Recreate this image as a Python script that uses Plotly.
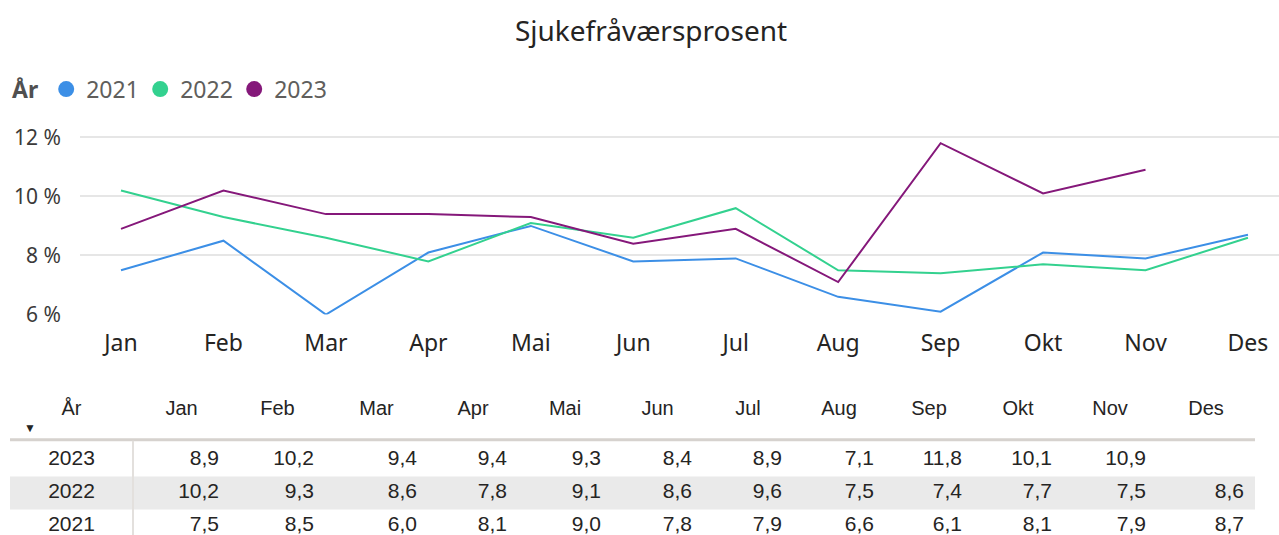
import plotly.graph_objects as go

# ---------------- data ----------------
months = ["Jan", "Feb", "Mar", "Apr", "Mai", "Jun", "Jul", "Aug", "Sep", "Okt", "Nov", "Des"]
years = ["2021", "2022", "2023"]
v2021 = [7.5, 8.5, 6.0, 8.1, 9.0, 7.8, 7.9, 6.6, 6.1, 8.1, 7.9, 8.7]
v2022 = [10.2, 9.3, 8.6, 7.8, 9.1, 8.6, 9.6, 7.5, 7.4, 7.7, 7.5, 8.6]
v2023 = [8.9, 10.2, 9.4, 9.4, 9.3, 8.4, 8.9, 7.1, 11.8, 10.1, 10.9, None]
y_ticks = [6, 8, 10, 12]
y_tick_labels = ["6 %", "8 %", "10 %", "12 %"]

series = {"2021": v2021, "2022": v2022, "2023": v2023}
colors = {"2021": "#3C8FE6", "2022": "#33D18F", "2023": "#85187A"}
table_order = ["2023", "2022", "2021"]

# ---------------- layout constants (pixels) ----------------
W, H = 1279, 535          # design space
FIG_H = 551               # figure height (page is shown squeezed to 535)
CHART_FONT = "Noto Sans"
TABLE_FONT = "Liberation Sans"
PLOT_BOTTOM, PLOT_TOP = 312, 123
PX_PER_UNIT = 29.5
TABLE_LEFT = 10
YEAR_COL_W = 123
COL_WIDTHS = [97, 95, 103, 90, 94, 91, 90, 92, 88, 90, 94, 98]
CELL_PAD = 11
HEADER_Y = 407
ROW_Y0 = 457
ROW_H = 33
TABLE_TOP = 380

fig = go.Figure()

for yr in years:
    fig.add_trace(go.Scatter(
        x=months, y=series[yr], mode="lines", name=yr,
        line=dict(color=colors[yr], width=2),
        showlegend=False, xaxis="x", yaxis="y",
        hovertemplate="%{x}: %{y:.1f} %<extra>" + yr + "</extra>",
    ))
for yr in years:
    fig.add_trace(go.Scatter(
        x=[None], y=[None], mode="markers", name=yr,
        marker=dict(size=20, color=colors[yr]),
        xaxis="x", yaxis="y",
    ))

# ---------------- table ----------------
seps = [TABLE_LEFT + YEAR_COL_W]
for w in COL_WIDTHS:
    seps.append(seps[-1] + w)
col_right = [s - CELL_PAD for s in seps[1:]]
col_center = [(seps[i] + seps[i + 1]) / 2 for i in range(len(COL_WIDTHS))]
year_center = TABLE_LEFT + YEAR_COL_W / 2

def fmt(v):
    return "" if v is None else f"{v:.1f}".replace(".", ",")

fig.add_trace(go.Scatter(
    x=[year_center] + col_center, y=[HEADER_Y] * (len(months) + 1),
    mode="text", text=["År"] + months, textposition="middle center",
    textfont=dict(family=TABLE_FONT, size=20, color="#252423"),
    showlegend=False, hoverinfo="skip", xaxis="x2", yaxis="y2",
))
for i, yr in enumerate(table_order):
    ry = ROW_Y0 + i * ROW_H
    fig.add_trace(go.Scatter(
        x=[year_center], y=[ry], mode="text", text=[yr],
        textposition="middle center",
        textfont=dict(family=TABLE_FONT, size=21, color="#252423"),
        showlegend=False, hoverinfo="skip", xaxis="x2", yaxis="y2",
    ))
    fig.add_trace(go.Scatter(
        x=col_right, y=[ry] * len(months), mode="text",
        text=[fmt(v) for v in series[yr]], textposition="middle left",
        textfont=dict(family=TABLE_FONT, size=21, color="#252423"),
        showlegend=False, hoverinfo="skip", xaxis="x2", yaxis="y2",
    ))

shapes = []
band_row = table_order.index("2022")
shapes.append(dict(type="rect", xref="x2", yref="y2", layer="below",
                   x0=TABLE_LEFT, x1=seps[-1],
                   y0=ROW_Y0 + band_row * ROW_H - ROW_H / 2,
                   y1=ROW_Y0 + band_row * ROW_H + ROW_H / 2,
                   fillcolor="#EAEAEA", line=dict(width=0)))
shapes.append(dict(type="line", xref="x2", yref="y2", x0=TABLE_LEFT, x1=seps[-1],
                   y0=437, y1=437, line=dict(color="#D6D2CE", width=3)))
shapes.append(dict(type="line", xref="x2", yref="y2", x0=seps[0], x1=seps[0],
                   y0=438, y1=H, line=dict(color="#E3E0DD", width=2)))

annotations = [
    dict(text="▼", xref="x2", yref="y2", x=30, y=425, showarrow=False,
         font=dict(size=12, color="#252423")),
]

fig.update_layout(
    width=W, height=FIG_H,
    margin=dict(l=0, r=0, t=0, b=0),
    paper_bgcolor="white", plot_bgcolor="rgba(0,0,0,0)",
    title=dict(text="Sjukefråværsprosent", x=0.509, xanchor="center",
               y=1 - 30 / H, yanchor="middle",
               font=dict(family=CHART_FONT, size=28, color="#252423")),
    legend=dict(orientation="h", x=10 / W, xanchor="left", y=1 - 87 / H, yanchor="middle",
                title=dict(text="<b>År</b>", side="left",
                           font=dict(family=CHART_FONT, size=23, color="#505050")),
                font=dict(family=CHART_FONT, size=23, color="#605E5C"),
                itemsizing="trace", tracegroupgap=0, itemwidth=30,
                entrywidth=49, entrywidthmode="pixels",
                bgcolor="rgba(0,0,0,0)"),
    xaxis=dict(domain=[80 / W, 1], type="category", range=[-0.4002, 11.303],
               showgrid=False, zeroline=False, showline=False, ticks="",
               tickfont=dict(family=CHART_FONT, size=23, color="#252423"),
               ticklabelstandoff=12, anchor="y", fixedrange=True),
    yaxis=dict(domain=[1 - PLOT_BOTTOM / H, 1 - PLOT_TOP / H],
               range=[6, 6 + (PLOT_BOTTOM - PLOT_TOP) / PX_PER_UNIT],
               tickmode="array", tickvals=y_ticks, ticktext=y_tick_labels, showgrid=True,
               gridcolor="#E6E6E6", gridwidth=1.5, zeroline=False, showline=False,
               tickfont=dict(family=CHART_FONT, size=21, color="#3B3A39"),
               ticklabelstandoff=18, anchor="x", fixedrange=True),
    xaxis2=dict(domain=[0, 1], range=[0, W], visible=False, anchor="y2", fixedrange=True),
    yaxis2=dict(domain=[0, 1 - TABLE_TOP / H], range=[H, TABLE_TOP], visible=False,
                anchor="x2", fixedrange=True),
    shapes=shapes, annotations=annotations,
    showlegend=True,
)

fig.write_html(
    "out.html",
    config={"displayModeBar": False},
    post_script=(
        "document.body.style.margin='0';"
        "document.body.style.overflow='hidden';"
        "document.documentElement.style.overflow='hidden';"
    ),
)
